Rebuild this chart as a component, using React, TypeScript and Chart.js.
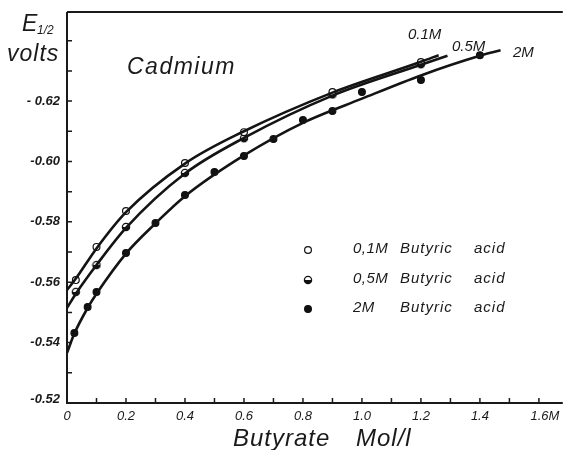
import React, { useEffect, useRef } from "react";
import { Chart, registerables } from "chart.js";

Chart.register(...registerables);

// ---- Data ----
const pts01X = [0.03, 0.1, 0.2, 0.4, 0.6, 0.9, 1.2];
const pts01Y = [-0.5607, -0.5717, -0.5836, -0.5995, -0.6097, -0.623, -0.6329];

const pts05X = [0.03, 0.1, 0.2, 0.4, 0.6, 0.9, 1.2];
const pts05Y = [-0.5568, -0.5657, -0.5783, -0.5962, -0.6077, -0.6222, -0.6322];

const pts2X = [0.025, 0.07, 0.1, 0.2, 0.3, 0.4, 0.5, 0.6, 0.7, 0.8, 0.9, 1.0, 1.2, 1.4];
const pts2Y = [-0.5432, -0.5518, -0.5568, -0.5697, -0.5796, -0.5889, -0.5965, -0.6018, -0.6074, -0.6137, -0.6167, -0.623, -0.627, -0.6352];

const curve01X = [0, 0.03, 0.1, 0.2, 0.4, 0.6, 0.9, 1.2, 1.26];
const curve01Y = [-0.5574, -0.5612, -0.5712, -0.5832, -0.5993, -0.61, -0.6228, -0.633, -0.6352];

const curve05X = [0, 0.03, 0.1, 0.2, 0.4, 0.6, 0.9, 1.2, 1.29];
const curve05Y = [-0.5515, -0.5562, -0.5657, -0.578, -0.596, -0.6078, -0.6218, -0.632, -0.635];

const curve2X = [0, 0.025, 0.07, 0.1, 0.2, 0.3, 0.4, 0.6, 0.8, 1.0, 1.2, 1.4, 1.47];
const curve2Y = [-0.5366, -0.543, -0.5515, -0.5562, -0.5695, -0.5795, -0.5885, -0.602, -0.6128, -0.6208, -0.6285, -0.635, -0.6368];

const xTickValues = [0, 0.2, 0.4, 0.6, 0.8, 1.0, 1.2, 1.4, 1.6];
const xTickLabels = ["0", "0.2", "0.4", "0.6", "0.8", "1.0", "1.2", "1.4", "1.6M"];
const xMinorTicks = [0.1, 0.2, 0.3, 0.4, 0.5, 0.6, 0.7, 0.8, 0.9, 1.0, 1.1, 1.2, 1.3, 1.4, 1.5, 1.6];

const yTickValues = [-0.52, -0.54, -0.56, -0.58, -0.6, -0.62];
const yTickLabels = ["-0.52", "-0.54", "-0.56", "-0.58", "-0.60", "- 0.62"];
const yMinorTicks = [-0.53, -0.54, -0.55, -0.56, -0.57, -0.58, -0.59, -0.6, -0.61, -0.62, -0.63, -0.64];

const legendLabels = ["0,1M", "0,5M", "2M"];
const curveLabels = ["0.1M", "0.5M", "2M"];

const toXY = (xs: number[], ys: number[]) => xs.map((x, i) => ({ x, y: ys[i] }));

function makeHalfMarker(): HTMLCanvasElement {
  const c = document.createElement("canvas");
  c.width = 10;
  c.height = 10;
  const g = c.getContext("2d")!;
  g.beginPath();
  g.arc(5, 5, 3.6, 0, Math.PI * 2);
  g.fillStyle = "#fff";
  g.fill();
  g.beginPath();
  g.arc(5, 5, 3.6, 0, Math.PI);
  g.closePath();
  g.fillStyle = "#111";
  g.fill();
  g.beginPath();
  g.arc(5, 5, 3.6, 0, Math.PI * 2);
  g.lineWidth = 1.3;
  g.strokeStyle = "#111";
  g.stroke();
  return c;
}

const FONT = "'Liberation Sans', 'DejaVu Sans', sans-serif";

export default function App() {
  const ref = useRef<HTMLCanvasElement | null>(null);

  useEffect(() => {
    const canvas = ref.current!;
    const half = makeHalfMarker();

    const drawMarker = (ctx: CanvasRenderingContext2D, kind: number, x: number, y: number) => {
      if (kind === 1) {
        ctx.drawImage(half, x - 5, y - 5);
        return;
      }
      ctx.beginPath();
      ctx.arc(x, y, 3.4, 0, Math.PI * 2);
      ctx.fillStyle = kind === 0 ? "#fff" : "#111";
      ctx.fill();
      ctx.lineWidth = 1.2;
      ctx.strokeStyle = "#111";
      ctx.stroke();
    };

    const axesPlugin = {
      id: "paperAxes",
      beforeDatasetsDraw(chart: any) {
        const ctx = chart.ctx as CanvasRenderingContext2D;
        const { left, right, top, bottom } = chart.chartArea;
        const xs = chart.scales.x;
        const ys = chart.scales.y;
        ctx.save();
        ctx.strokeStyle = "#1a1a1a";
        ctx.lineWidth = 2;
        ctx.beginPath();
        ctx.moveTo(left, top);
        ctx.lineTo(right, top);
        ctx.moveTo(left, top);
        ctx.lineTo(left, bottom);
        ctx.lineTo(right, bottom);
        ctx.stroke();
        ctx.lineWidth = 1.5;
        ctx.beginPath();
        xMinorTicks.forEach((v) => {
          const px = xs.getPixelForValue(v);
          ctx.moveTo(px, bottom);
          ctx.lineTo(px, bottom - 5);
        });
        yMinorTicks.forEach((v) => {
          const py = ys.getPixelForValue(v);
          ctx.moveTo(left, py);
          ctx.lineTo(left + 5, py);
        });
        ctx.stroke();

        ctx.fillStyle = "#1a1a1a";
        ctx.font = `italic 13px ${FONT}`;
        ctx.textAlign = "center";
        ctx.textBaseline = "alphabetic";
        xTickValues.forEach((v, i) => {
          const px = xs.getPixelForValue(v);
          ctx.fillText(xTickLabels[i], px + (i === 8 ? 6 : 0), bottom + 17);
        });
        ctx.font = `italic bold 13px ${FONT}`;
        ctx.textAlign = "right";
        ctx.textBaseline = "middle";
        yTickValues.forEach((v, i) => {
          const py = ys.getPixelForValue(v);
          ctx.fillText(yTickLabels[i], left - 7, py - (i === 0 ? 4 : 0));
        });
        ctx.restore();
      },
      afterDraw(chart: any) {
        const ctx = chart.ctx as CanvasRenderingContext2D;
        ctx.save();
        ctx.fillStyle = "#1a1a1a";
        ctx.textBaseline = "alphabetic";
        ctx.textAlign = "left";
        // Y title
        ctx.font = `italic 23px ${FONT}`;
        ctx.fillText("E", 22, 31);
        ctx.font = `italic 12px ${FONT}`;
        ctx.fillText("1/2", 37, 34);
        ctx.font = `italic 23px ${FONT}`;
        (ctx as any).letterSpacing = "1px";
        ctx.fillText("volts", 7, 61);
        // Cadmium
        ctx.font = `italic 23px ${FONT}`;
        (ctx as any).letterSpacing = "1.5px";
        ctx.fillText("Cadmium", 127, 74);
        // X title
        ctx.font = `italic 24px ${FONT}`;
        (ctx as any).letterSpacing = "1px";
        ctx.fillText("Butyrate", 233, 446);
        ctx.fillText("Mol/l", 356, 446);
        // Curve labels
        ctx.font = `italic 15px ${FONT}`;
        (ctx as any).letterSpacing = "0px";
        ctx.fillText(curveLabels[0], 408, 39);
        ctx.fillText(curveLabels[1], 452, 51);
        ctx.fillText(curveLabels[2], 513, 57);
        // Legend
        const rows = [249, 279, 308];
        rows.forEach((ry, i) => {
          drawMarker(ctx, i, 308, ry + 1);
          ctx.fillStyle = "#1a1a1a";
          ctx.font = `italic 15px ${FONT}`;
          (ctx as any).letterSpacing = "0.5px";
          ctx.textBaseline = "middle";
          ctx.fillText(legendLabels[i], 353, ry);
          (ctx as any).letterSpacing = "1px";
          ctx.fillText("Butyric", 400, ry);
          ctx.fillText("acid", 474, ry);
        });
        ctx.restore();
      },
    };

    const lineDs = (xs: number[], ys: number[]) => ({
      type: "line" as const,
      data: toXY(xs, ys),
      borderColor: "#141414",
      borderWidth: 2.6,
      pointRadius: 0,
      fill: false,
      cubicInterpolationMode: "monotone" as const,
    });
    const ptDs = (xs: number[], ys: number[], style: any, bg: string) => ({
      type: "scatter" as const,
      data: toXY(xs, ys),
      pointStyle: style,
      pointRadius: 3.4,
      pointBorderWidth: 1.2,
      borderColor: "#111",
      backgroundColor: bg,
      showLine: false,
    });

    const chart = new Chart(canvas, {
      type: "scatter",
      data: {
        datasets: [
          lineDs(curve01X, curve01Y),
          lineDs(curve05X, curve05Y),
          lineDs(curve2X, curve2Y),
          ptDs(pts01X, pts01Y, "circle", "#fff"),
          ptDs(pts05X, pts05Y, half, "#fff"),
          ptDs(pts2X, pts2Y, "circle", "#111"),
        ] as any,
      },
      options: {
        animation: false,
        responsive: false,
        maintainAspectRatio: false,
        layout: { padding: { left: 67, top: 12, right: 0, bottom: 47 } },
        plugins: { legend: { display: false }, tooltip: { enabled: false } },
        scales: {
          x: { type: "linear", min: 0, max: 1.681, display: false },
          y: { type: "linear", min: -0.6495, max: -0.52, reverse: true, display: false },
        },
      },
      plugins: [axesPlugin],
    });
    return () => chart.destroy();
  }, []);

  return (
    <div style={{ position: "fixed", left: 0, top: 0, width: 568, height: 450, background: "#fff" }}>
      <canvas ref={ref} width={568} height={450} style={{ width: 568, height: 450, display: "block" }} />
    </div>
  );
}
